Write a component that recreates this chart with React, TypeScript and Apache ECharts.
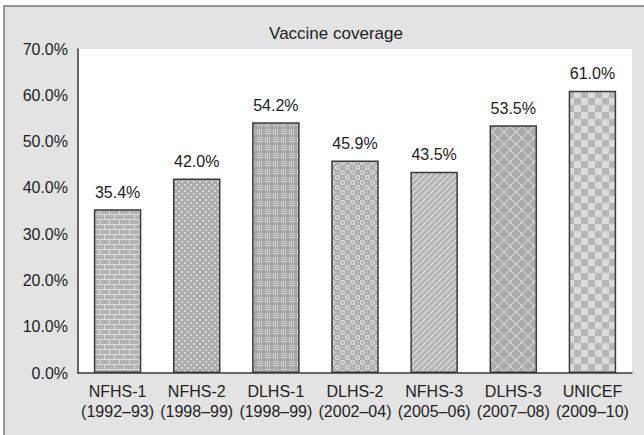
import React, { useEffect, useRef } from "react";
import * as echarts from "echarts";

const categories = ["NFHS-1", "NFHS-2", "DLHS-1", "DLHS-2", "NFHS-3", "DLHS-3", "UNICEF"];
const periods = ["1992–93", "1998–99", "1998–99", "2002–04", "2005–06", "2007–08", "2009–10"];
const coverage = [35.4, 42.0, 54.2, 45.9, 43.5, 53.5, 61.0];
const yTicks = { min: 0, max: 70, interval: 10 };

function makeCanvas(w: number, h: number, draw: (c: CanvasRenderingContext2D) => void) {
  const cv = document.createElement("canvas");
  cv.width = w;
  cv.height = h;
  const c = cv.getContext("2d")!;
  draw(c);
  return cv;
}

function buildPatterns() {
  const bricks = makeCanvas(20, 10, (c) => {
    c.fillStyle = "#dcdcdc";
    c.fillRect(0, 0, 20, 10);
    c.fillStyle = "#b2b2b2";
    c.fillRect(0, 0, 9, 4);
    c.fillRect(10, 0, 9, 4);
    c.fillRect(0, 5, 4, 4);
    c.fillRect(5, 5, 9, 4);
    c.fillRect(15, 5, 5, 4);
  });
  const dots = makeCanvas(6, 6, (c) => {
    c.fillStyle = "#acacac";
    c.fillRect(0, 0, 6, 6);
    c.fillStyle = "#d8d8d8";
    c.fillRect(1, 1, 2, 2);
    c.fillRect(4, 4, 2, 2);
  });
  const weave = makeCanvas(16, 16, (c) => {
    c.fillStyle = "#a8a8a8";
    c.fillRect(0, 0, 16, 16);
    c.fillStyle = "#d0d0d0";
    for (let i = 0; i < 3; i++) {
      c.fillRect(1 + i * 2, 1, 1, 6);
      c.fillRect(9, 1 + i * 2, 6, 1);
      c.fillRect(1, 9 + i * 2, 6, 1);
      c.fillRect(9 + i * 2, 9, 1, 6);
    }
  });
  const rings = makeCanvas(10, 10, (c) => {
    c.fillStyle = "#acacac";
    c.fillRect(0, 0, 10, 10);
    c.strokeStyle = "#dadada";
    c.lineWidth = 1.4;
    for (const [x, y] of [[2.5, 2.5], [7.5, 7.5]]) {
      c.beginPath();
      c.arc(x, y, 2, 0, Math.PI * 2);
      c.stroke();
    }
    c.fillStyle = "#d2d2d2";
    c.fillRect(7, 2, 1, 1);
    c.fillRect(2, 7, 1, 1);
  });
  const diag = makeCanvas(6, 6, (c) => {
    c.fillStyle = "#b3b3b3";
    c.fillRect(0, 0, 6, 6);
    c.strokeStyle = "#d9d9d9";
    c.lineWidth = 1.5;
    c.beginPath();
    c.moveTo(-1, 7);
    c.lineTo(7, -1);
    c.moveTo(-1, 1);
    c.lineTo(1, -1);
    c.moveTo(5, 7);
    c.lineTo(7, 5);
    c.stroke();
  });
  const lattice = makeCanvas(12, 12, (c) => {
    c.fillStyle = "#aaaaaa";
    c.fillRect(0, 0, 12, 12);
    c.strokeStyle = "#d4d4d4";
    c.lineWidth = 1.2;
    c.beginPath();
    c.moveTo(0, 0);
    c.lineTo(12, 12);
    c.moveTo(12, 0);
    c.lineTo(0, 12);
    c.stroke();
  });
  const checker = makeCanvas(14, 14, (c) => {
    c.fillStyle = "#dbdbdb";
    c.fillRect(0, 0, 14, 14);
    c.fillStyle = "#b6b6b6";
    c.fillRect(0, 0, 7, 7);
    c.fillRect(7, 7, 7, 7);
  });
  return [bricks, dots, weave, rings, diag, lattice, checker].map((img) => ({
    image: img,
    repeat: "repeat" as const,
  }));
}

export default function App() {
  const ref = useRef<HTMLDivElement>(null);
  useEffect(() => {
    if (!ref.current) return;
    const chart = echarts.init(ref.current, null, { renderer: "svg" });
    const patterns = buildPatterns();
    const font = "'Liberation Sans', Arial, sans-serif";
    chart.setOption({
      animation: false,
      backgroundColor: "#ffffff",
      textStyle: { fontFamily: font },
      graphic: [
        {
          type: "rect",
          z: -100,
          shape: { x: 4, y: 6, width: 700, height: 500 },
          style: { fill: "#e3e3e3", stroke: "#7a7a7a", lineWidth: 1.5 },
        },
      ],
      title: {
        text: "Vaccine coverage",
        left: 331,
        textAlign: "center",
        top: 20,
        textStyle: { fontSize: 17, fontWeight: "normal", color: "#222", fontFamily: font },
      },
      grid: {
        left: 78,
        right: 12,
        top: 49,
        bottom: 62,
        show: true,
        backgroundColor: "#ffffff",
        borderWidth: 0,
      },
      xAxis: {
        type: "category",
        data: categories.map((c, i) => `${c}\n(${periods[i]})`),
        axisLine: { lineStyle: { color: "#3a3a3a", width: 1.5 } },
        axisTick: { show: false },
        axisLabel: {
          color: "#222",
          fontSize: 16,
          lineHeight: 20,
          margin: 8,
          interval: 0,
          fontFamily: font,
        },
      },
      yAxis: {
        type: "value",
        min: yTicks.min,
        max: yTicks.max,
        interval: yTicks.interval,
        splitLine: { show: false },
        axisLine: { show: true, lineStyle: { color: "#3a3a3a", width: 1.5 } },
        axisTick: { show: false },
        axisLabel: {
          color: "#222",
          fontSize: 16,
          margin: 10,
          fontFamily: font,
          formatter: (v: number) => v.toFixed(1) + "%",
        },
      },
      series: [
        {
          type: "bar",
          barWidth: "60%",
          data: coverage.map((v, i) => ({
            value: v,
            itemStyle: { color: patterns[i], borderColor: "#3a3a3a", borderWidth: 1.5 },
          })),
          label: {
            show: true,
            position: "top",
            distance: 9,
            color: "#222",
            fontSize: 16,
            fontFamily: font,
            formatter: (p: any) => p.value.toFixed(1) + "%",
          },
        },
      ],
    });
    return () => chart.dispose();
  }, []);
  return (
    <div
      ref={ref}
      style={{ position: "absolute", left: 0, top: 0, width: 644, height: 435 }}
    />
  );
}
